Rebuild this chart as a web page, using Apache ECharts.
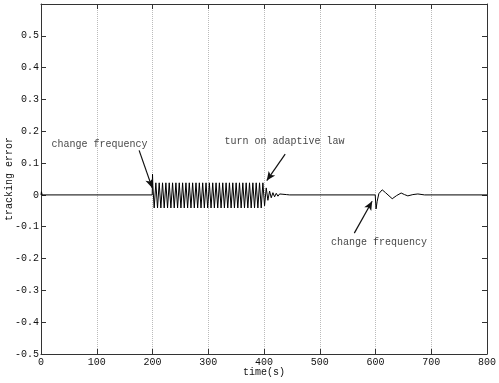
<!DOCTYPE html>
<html>
<head>
<meta charset="utf-8">
<script src="https://cdn.jsdelivr.net/npm/echarts@6/dist/echarts.min.js"></script>
<style>
  html, body { margin: 0; padding: 0; background: #fff; }
  #main { width: 499px; height: 383px; }
</style>
</head>
<body>
<div id="main"></div>
<script>
// tracking error curve (time in s)
var errTime = [0, 0.8, 2, 199.5, 200, 200.6,
    203, 206, 209, 212, 215, 218, 221, 224, 227, 230, 233, 236, 239, 242, 245, 248,
    251, 254, 257, 260, 263, 266, 269, 272, 275, 278, 281, 284, 287, 290, 293, 296,
    299, 302, 305, 308, 311, 314, 317, 320, 323, 326, 329, 332, 335, 338, 341, 344,
    347, 350, 353, 356, 359, 362, 365, 368, 371, 374, 377, 380, 383, 386, 389, 392,
    395, 398,
    401, 404, 407, 410, 413, 416, 419, 422, 425, 428, 431, 434, 437, 440, 443, 446,
    599.5, 600, 601, 603, 606, 612, 618, 630, 638, 646, 652, 658, 667, 676, 688, 800];
var errValue = [0, 0.01, 0, 0, 0.065, 0.03,
    -0.041, 0.038, -0.041, 0.038, -0.041, 0.038, -0.041, 0.038, -0.041, 0.038, -0.041, 0.038, -0.041, 0.038, -0.041, 0.038,
    -0.041, 0.038, -0.041, 0.038, -0.041, 0.038, -0.041, 0.038, -0.041, 0.038, -0.041, 0.038, -0.041, 0.038, -0.041, 0.038,
    -0.041, 0.038, -0.041, 0.038, -0.041, 0.038, -0.041, 0.038, -0.041, 0.038, -0.041, 0.038, -0.041, 0.038, -0.041, 0.038,
    -0.041, 0.038, -0.041, 0.038, -0.041, 0.038, -0.041, 0.038, -0.041, 0.038, -0.041, 0.038, -0.041, 0.038, -0.041, 0.038,
    -0.041, 0.038,
    -0.034, 0.022, -0.017, 0.012, -0.009, 0.007, -0.006, 0.005, -0.004, 0.003, -0.003, 0.002, -0.002, 0.001, -0.001, 0,
    0, 0.006, -0.044, -0.02, 0.004, 0.016, 0.007, -0.012, -0.002, 0.006, 0.001, -0.003, 0.001, 0.003, 0, 0];

// annotations
var noteText = ['change frequency', 'turn on adaptive law', 'change frequency'];
var noteX = [19, 329, 520];
var noteY = [0.158, 0.168, -0.148];
var arrowFrom = [[176, 0.14], [438, 0.128], [562, -0.12]];
var arrowTo = [[199.5, 0.022], [405, 0.045], [594, -0.02]];

var font = 'Liberation Mono';

var lineData = [];
for (var i = 0; i < errTime.length; i++) {
    lineData.push([errTime[i], errValue[i]]);
}
var noteData = [];
for (var i = 0; i < noteText.length; i++) {
    noteData.push({ name: noteText[i], value: [noteX[i], noteY[i]] });
}
var arrowData = [];
for (var i = 0; i < arrowFrom.length; i++) {
    arrowData.push([{ coord: arrowFrom[i] }, { coord: arrowTo[i] }]);
}

var myChart = echarts.init(document.getElementById('main'));

var axisStyle = { onZero: false, lineStyle: { color: '#333', width: 1 } };
var tickStyle = { show: true, inside: true, length: 5, lineStyle: { color: '#333' } };

var option = {
    animation: false,
    backgroundColor: '#fff',
    grid: { left: 41, right: 12, top: 4, bottom: 29, containLabel: false, outerBoundsMode: 'none' },
    xAxis: [{
        type: 'value',
        min: 0, max: 800, interval: 100,
        name: 'time(s)',
        nameLocation: 'middle',
        nameGap: 13,
        nameMoveOverlap: false,
        nameTextStyle: { fontFamily: font, fontSize: 10, color: '#111' },
        axisLine: axisStyle,
        axisTick: tickStyle,
        axisLabel: { fontFamily: font, fontSize: 10, color: '#111', margin: 3 },
        splitLine: { show: true, lineStyle: { color: '#bbb', type: 'dotted', width: 1 } }
    }, {
        type: 'value',
        position: 'top',
        min: 0, max: 800, interval: 100,
        axisLine: axisStyle,
        axisTick: tickStyle,
        axisLabel: { show: false },
        splitLine: { show: false }
    }],
    yAxis: [{
        type: 'value',
        min: -0.5, max: 0.6, interval: 0.1,
        name: 'tracking error',
        nameLocation: 'middle',
        nameGap: 27,
        nameMoveOverlap: false,
        nameTextStyle: { fontFamily: font, fontSize: 10, color: '#111' },
        axisLine: axisStyle,
        axisTick: tickStyle,
        axisLabel: {
            fontFamily: font, fontSize: 10, color: '#111', margin: 2,
            formatter: function (v) {
                var r = Math.round(v * 10) / 10;
                if (r > 0.55) return '';
                return String(r);
            }
        },
        splitLine: { show: false }
    }, {
        type: 'value',
        position: 'right',
        min: -0.5, max: 0.6, interval: 0.1,
        axisLine: axisStyle,
        axisTick: tickStyle,
        axisLabel: { show: false },
        splitLine: { show: false }
    }],
    series: [{
        type: 'line',
        data: lineData,
        showSymbol: false,
        lineStyle: { color: '#000', width: 1 },
        markLine: {
            silent: true,
            symbol: ['none', 'arrow'],
            symbolSize: [6, 9],
            label: { show: false },
            lineStyle: { color: '#111', width: 1.2, type: 'solid' },
            data: arrowData
        }
    }, {
        type: 'scatter',
        data: noteData,
        symbolSize: 0,
        label: {
            show: true,
            position: 'right',
            distance: 0,
            formatter: '{b}',
            fontFamily: font,
            fontSize: 10,
            color: '#111'
        }
    }]
};

myChart.setOption(option);
</script>
</body>
</html>
